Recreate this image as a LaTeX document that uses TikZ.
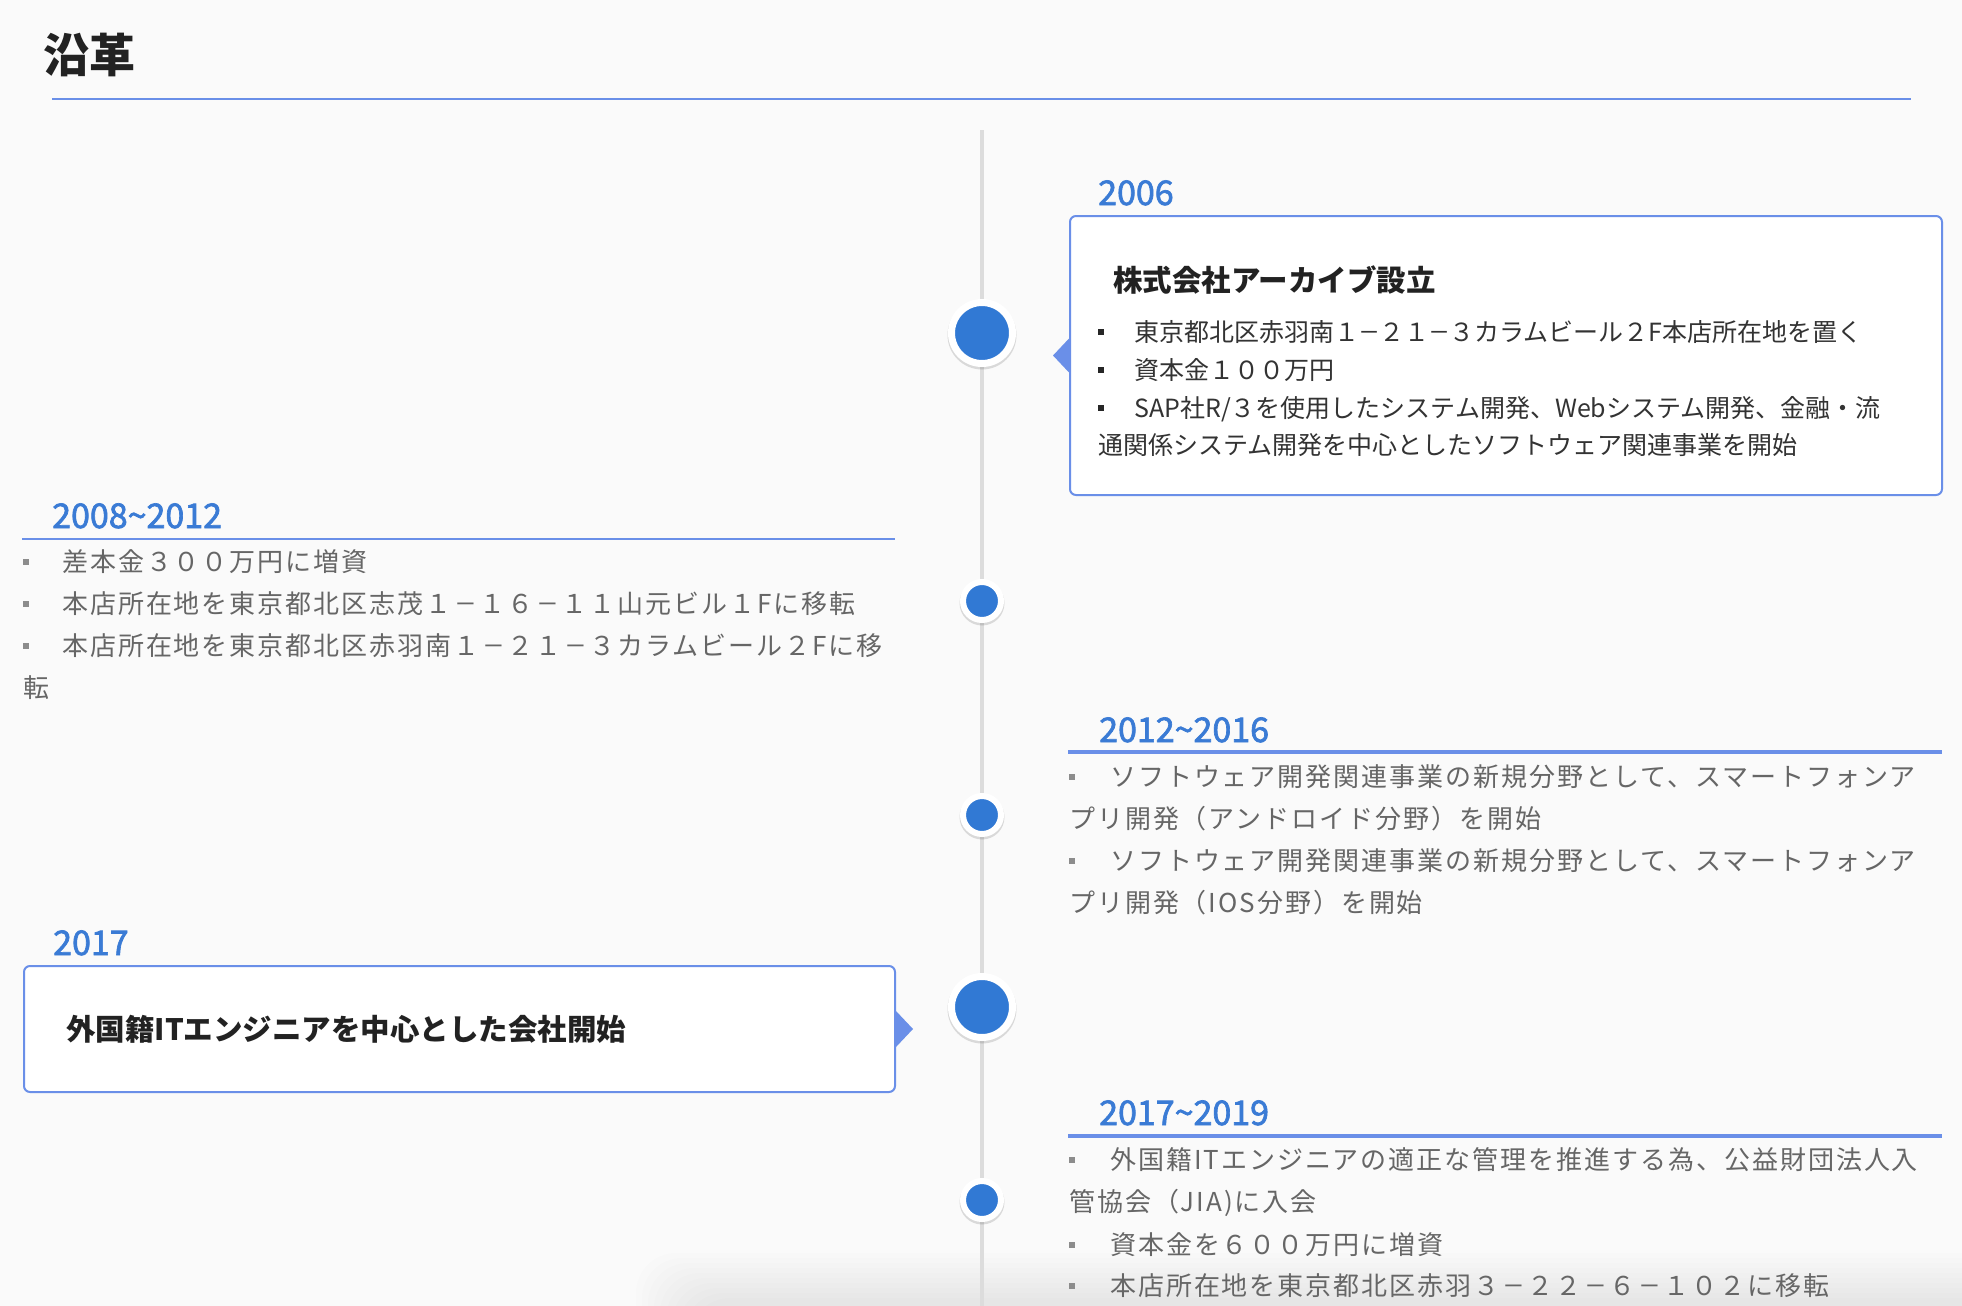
\documentclass[tikz,border=0pt]{standalone}
\usepackage{fontspec}
\newfontfamily\jp{Noto Sans CJK JP}
\newfontfamily\jpls[LetterSpace=7.5]{Noto Sans CJK JP}
\newfontfamily\jpmed[FakeBold=2]{Noto Sans CJK JP}
\definecolor{bg}{HTML}{FAFAFA}
\definecolor{tlblue}{HTML}{3179D4}
\definecolor{yearblue}{HTML}{3A7BD5}
\definecolor{edgeblue}{HTML}{6A8FE8}
\definecolor{linegray}{HTML}{DCDCDC}
\definecolor{txtgray}{HTML}{666666}
\definecolor{txtdark}{HTML}{333333}
\definecolor{ttl}{HTML}{222222}
\newcommand{\tl}{{\char"007E}}
\newcommand{\fm}[1][1.08em]{\makebox[#1]{\scalebox{1.3}[1]{\char"2212}}}
\tikzset{
  year/.style={anchor=base west, inner sep=0pt, text=yearblue, font=\jpmed\fontsize{34}{40}\selectfont},
  listtxt/.style={anchor=base west, inner sep=0pt, text=txtgray, font=\jpls\fontsize{26}{30}\selectfont},
  boxtxt/.style={anchor=base west, inner sep=0pt, text=txtdark, font=\jp\fontsize{25}{30}\selectfont},
  boxttl/.style={anchor=base west, inner sep=0pt, text=ttl, font=\jp\bfseries\fontsize{29.5}{34}\selectfont},
  card/.style={draw=edgeblue, line width=2pt, fill=white, rounded corners=6pt, inner sep=0pt, anchor=north west},
  pointer/.style={fill=edgeblue},
  lbullet/.style={rectangle, fill=txtgray!75, minimum size=6pt, inner sep=0pt},
  dbullet/.style={rectangle, fill=black!85, minimum size=6.5pt, inner sep=0pt},
  bigdot/.style={circle, fill=tlblue, draw=white, line width=7pt, minimum size=61pt, inner sep=0pt},
  smalldot/.style={circle, fill=tlblue, draw=white, line width=6pt, minimum size=38pt, inner sep=0pt},
  dotshadow/.style={fill=black, opacity=0.13},
  yline/.style={draw=edgeblue},
}
\begin{document}
\begin{tikzpicture}[x=1pt,y=-1pt]
\useasboundingbox (0,0) rectangle (1962,1306);
\fill[bg] (0,0) rectangle (1962,1306);
% bottom soft shadow
\foreach \i in {1,...,10}{
  \fill[black, opacity=0.008, rounded corners=40pt] (630+\i*6,1248+\i*5) rectangle (2050,1420);
}
% title
\node[anchor=base west, inner sep=0pt, text=ttl, font=\jp\bfseries\fontsize{46}{52}\selectfont] (title) at (43,73) {沿革};
\draw[yline, line width=2pt] (52,99) coordinate (tl1) -- (1911,99) coordinate (tl2);
% timeline
\coordinate (tltop) at (982,130);
\coordinate (tlbot) at (982,1306);
\draw[linegray, line width=4pt] (tltop) -- (tlbot);
% dots
\fill[dotshadow] (982,335) circle[radius=34.5];
\node[bigdot] (d1) at (982,333) {};
\fill[dotshadow] (982,603) circle[radius=22.5];
\node[smalldot] (d2) at (982,601) {};
\fill[dotshadow] (982,817) circle[radius=22.5];
\node[smalldot] (d3) at (982,815) {};
\fill[dotshadow] (982,1009) circle[radius=34.5];
\node[bigdot] (d4) at (982,1007) {};
\fill[dotshadow] (982,1202) circle[radius=22.5];
\node[smalldot] (d5) at (982,1200) {};

% ---- 2006
\node[year] (y1) at (1098,205) {2006};
\node[card, minimum width=872pt, minimum height=279pt] (c1) at (1069,215) {};
\fill[pointer] (c1.west) ++(0,-17) -- ++(-16,17) -- ++(16,17) -- cycle;
\node[boxttl] (c1t) at (1113,291) {株式会社アーカイブ設立};
\node[dbullet] (c1b1) at (1101,332) {};
\node[boxtxt] (c1l1) at (1134,341.5) {東京都北区赤羽南１\fm[0.8em]２１\fm[0.8em]３カラムビール２F本店所在地を置く};
\node[dbullet] (c1b2) at (1101,370) {};
\node[boxtxt] (c1l2) at (1134,379.5) {資本金１００万円};
\node[dbullet] (c1b3) at (1101,408) {};
\node[boxtxt] (c1l3) at (1134,417.5) {SAP社R/３を使用したシステム開発、Webシステム開発、金融・流};
\node[boxtxt] (c1l4) at (1098,454.5) {通関係システム開発を中心としたソフトウェア関連事業を開始};

% ---- 2008~2012
\node[year] (y2) at (52,528) {2008\tl2012};
\draw[yline, line width=2pt] (22,539) coordinate (u2a) -- (895,539) coordinate (u2b);
\node[lbullet] (b2a) at (26,562) {};
\node[listtxt] (t2a) at (62,571) {差本金３００万円に増資};
\node[lbullet] (b2b) at (26,604) {};
\node[listtxt] (t2b) at (62,613) {本店所在地を東京都北区志茂１\fm１６\fm１１山元ビル１Fに移転};
\node[lbullet] (b2c) at (26,646) {};
\node[listtxt] (t2c) at (62,655) {本店所在地を東京都北区赤羽南１\fm２１\fm３カラムビール２Fに移};
\node[listtxt] (t2d) at (23,697) {転};

% ---- 2012~2016
\node[year] (y3) at (1099,742) {2012\tl2016};
\draw[yline, line width=3.5pt] (1068,752) coordinate (u3a) -- (1942,752) coordinate (u3b);
\node[lbullet] (b3a) at (1072,777) {};
\node[listtxt] (t3a) at (1110,786) {ソフトウェア開発関連事業の新規分野として、スマートフォンア};
\node[listtxt] (t3b) at (1069,828) {プリ開発（アンドロイド分野）を開始};
\node[lbullet] (b3b) at (1072,861) {};
\node[listtxt] (t3c) at (1110,870) {ソフトウェア開発関連事業の新規分野として、スマートフォンア};
\node[listtxt] (t3d) at (1069,912) {プリ開発（IOS分野）を開始};

% ---- 2017
\node[year] (y4) at (53,955) {2017};
\node[card, minimum width=871pt, minimum height=126pt] (c2) at (23,965) {};
\fill[pointer] (c2.east) ++(0,-18) -- ++(17,18) -- ++(-17,18) -- cycle;
\node[boxttl] (c2t) at (66,1040) {外国籍ITエンジニアを中心とした会社開始};

% ---- 2017~2019
\node[year] (y5) at (1099,1125) {2017\tl2019};
\draw[yline, line width=3.5pt] (1068,1136) coordinate (u5a) -- (1942,1136) coordinate (u5b);
\node[lbullet] (b5a) at (1072,1160) {};
\node[listtxt] (t5a) at (1110,1169) {外国籍ITエンジニアの適正な管理を推進する為、公益財団法人入};
\node[listtxt] (t5b) at (1069,1211) {管協会（JIA)に入会};
\node[lbullet] (b5b) at (1072,1245) {};
\node[listtxt] (t5c) at (1110,1254) {資本金を６００万円に増資};
\node[lbullet] (b5c) at (1072,1286) {};
\node[listtxt] (t5d) at (1110,1295) {本店所在地を東京都北区赤羽３\fm２２\fm６\fm１０２に移転};
\end{tikzpicture}
\end{document}
